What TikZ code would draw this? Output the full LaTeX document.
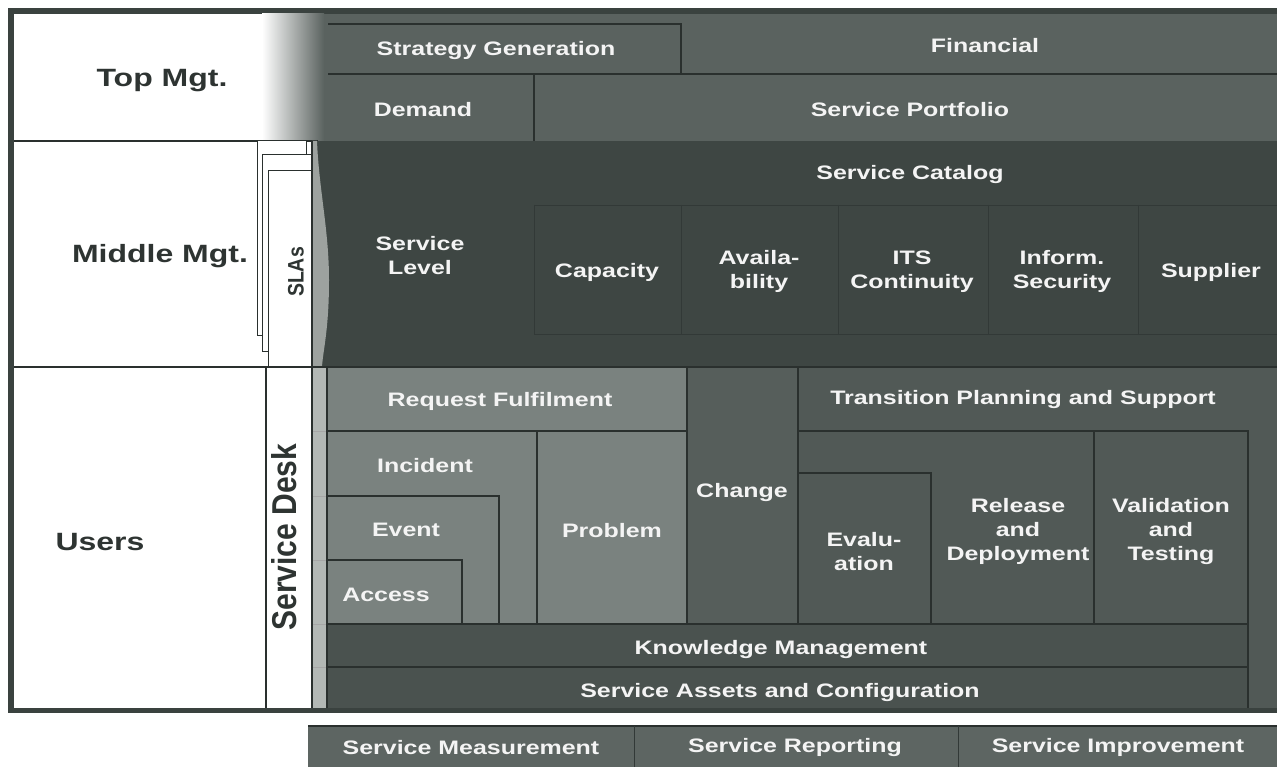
\documentclass[tikz,border=0pt]{standalone}
\usepackage{fontspec}
\newfontfamily\lab[FakeStretch=1.28]{Liberation Sans}
\newfontfamily\labn{Liberation Sans}
\definecolor{framec}{HTML}{3A423F}
\definecolor{topc}{HTML}{5A625F}
\definecolor{midc}{HTML}{3E4643}
\definecolor{lightc}{HTML}{7A827F}
\definecolor{chg}{HTML}{565E5B}
\definecolor{trn}{HTML}{515956}
\definecolor{kmc}{HTML}{4A524F}
\definecolor{stripc}{HTML}{B3B8B5}
\definecolor{wavec}{HTML}{9DA29F}
\definecolor{lc}{HTML}{2A302E}
\definecolor{dlc}{HTML}{323937}
\definecolor{txt}{HTML}{F4F4F4}
\definecolor{sidec}{HTML}{2E3432}
\definecolor{botc}{HTML}{5D6562}
\begin{document}
\begin{tikzpicture}[x=1pt,y=-1pt,
  ln/.style={draw=lc,line width=1.1pt},
  dln/.style={draw=dlc,line width=0.9pt},
  sln/.style={draw=gray!70,line width=0.6pt},
  lbl/.style={text=txt,font=\lab\bfseries\fontsize{19.5}{24}\selectfont,align=center,inner sep=0pt,yshift=-2.5pt},
  side/.style={text=sidec,font=\lab\bfseries\fontsize{25}{30}\selectfont,inner sep=0pt,yshift=-2.5pt},
  page/.style={draw=lc,line width=1pt,fill=white}]
\useasboundingbox (0,0) rectangle (1277,767);
\fill[white] (0,0) rectangle (1277,767);
% outer frame
\fill[framec] (8,8) rectangle (1277,713);
\fill[white] (14,14) rectangle (320,708);
% ---------- top row ----------
\fill[topc] (318,14) rectangle (1277,141);
\shade[left color=white,right color=topc] (262,14) rectangle (324,141);
\draw[ln] (328,24) -- (681,24) -- (681,74);
\draw[ln] (328,74) -- (1277,74);
\draw[ln] (534,74) -- (534,141);
\draw[ln] (14,141) -- (318,141);
% ---------- middle row ----------
\fill[midc] (312,141) rectangle (1277,367);
\fill[wavec] (312,141) -- (317,141) .. controls (319,190) and (329,230) .. (329,280)
  .. controls (329,330) and (323,350) .. (322,367) -- (312,367) -- cycle;
\draw[dln] (534,205) -- (1277,205);
\draw[dln] (534,334) -- (1277,334);
\foreach \xx in {534,681,838,988,1138} \draw[dln] (\xx,205) -- (\xx,334);
% SLA pages
\draw[page] (257,141) rectangle (306,335);
\draw[page] (262,155) rectangle (312,351);
\draw[page] (268,171) rectangle (312,367);
\draw[ln] (312,141) -- (312,367);
% ---------- users row ----------
\fill[trn] (312,367) rectangle (1277,708);
\fill[stripc] (312,367) rectangle (327,708);
\foreach \yy in {431,496,560,624,667} \draw[sln] (312,\yy) -- (327,\yy);
\fill[lightc] (327,367) rectangle (687,624);
\fill[chg] (687,367) rectangle (798,624);
\fill[kmc] (327,624) rectangle (1248,708);
\draw[ln] (14,367) -- (1277,367);
\draw[ln] (266,367) -- (266,708);
\draw[ln] (312,367) -- (312,708);
\draw[ln] (327,367) -- (327,708);
\draw[ln] (327,431) -- (687,431);
\draw[ln] (537,431) -- (537,624);
\draw[ln] (327,496) -- (499,496) -- (499,624);
\draw[ln] (327,560) -- (462,560) -- (462,624);
\draw[ln] (687,367) -- (687,624);
\draw[ln] (798,367) -- (798,624);
\draw[ln] (798,431) -- (1248,431) -- (1248,708);
\draw[ln] (798,473) -- (931,473) -- (931,624);
\draw[ln] (1094,431) -- (1094,624);
\draw[ln] (327,624) -- (1248,624);
\draw[ln] (327,667) -- (1248,667);
% ---------- bottom strip ----------
\fill[botc] (308,726) rectangle (1277,767);
\draw[ln] (308,726) -- (1277,726);
\draw[dln] (634,726) -- (634,767);
\draw[dln] (958,726) -- (958,767);
% ---------- side labels ----------
\node[side] (top) at (162,78) {Top Mgt.};
\node[side] (mid) at (160,254) {Middle Mgt.};
\node[side] (usr) at (100,540) {Users};
\node[text=sidec,inner sep=0pt] (sd) at (284,537) {\scalebox{1.15}[1]{\rotatebox{90}{\labn\bfseries\fontsize{30}{32}\selectfont Service Desk}}};
\node[text=sidec,inner sep=0pt] (sla) at (296,272) {\scalebox{1.15}[1]{\rotatebox{90}{\labn\bfseries\fontsize{19.5}{24}\selectfont SLAs}}};
% ---------- top labels ----------
\node[lbl] (sg) at (496,48) {Strategy Generation};
\node[lbl] (fin) at (985,43) {Financial};
\node[lbl] (dem) at (423,107) {Demand};
\node[lbl] (sp) at (910,107) {Service Portfolio};
% ---------- middle labels ----------
\node[lbl] (sc) at (910,172) {Service Catalog};
\node[lbl] (sl) at (420,253) {Service\\Level};
\node[lbl] (cap) at (607,270) {Capacity};
\node[lbl] (av) at (759,269) {Availa-\\bility};
\node[lbl] (itsc) at (912,269) {ITS\\Continuity};
\node[lbl] (isec) at (1062,269) {Inform.\\Security};
\node[lbl] (sup) at (1211,270) {Supplier};
% ---------- users labels ----------
\node[lbl] (rf) at (500,399) {Request Fulfilment};
\node[lbl] (inc) at (425,463) {Incident};
\node[lbl] (ev) at (406,527) {Event};
\node[lbl] (acc) at (386,592) {Access};
\node[lbl] (prb) at (612,528) {Problem};
\node[lbl] (chn) at (742,490) {Change};
\node[lbl] (tps) at (1023,397) {Transition Planning and Support};
\node[lbl] (eva) at (864,549) {Evalu-\\ation};
\node[lbl] (rel) at (1018,529) {Release\\and\\Deployment};
\node[lbl] (val) at (1171,529) {Validation\\and\\Testing};
\node[lbl] (km) at (781,647) {Knowledge Management};
\node[lbl] (sac) at (780,690) {Service Assets and Configuration};
% ---------- bottom labels ----------
\node[lbl] (sm) at (471,745) {Service Measurement};
\node[lbl] (sr) at (795,745) {Service Reporting};
\node[lbl] (si) at (1118,745) {Service Improvement};
\end{tikzpicture}
\end{document}
